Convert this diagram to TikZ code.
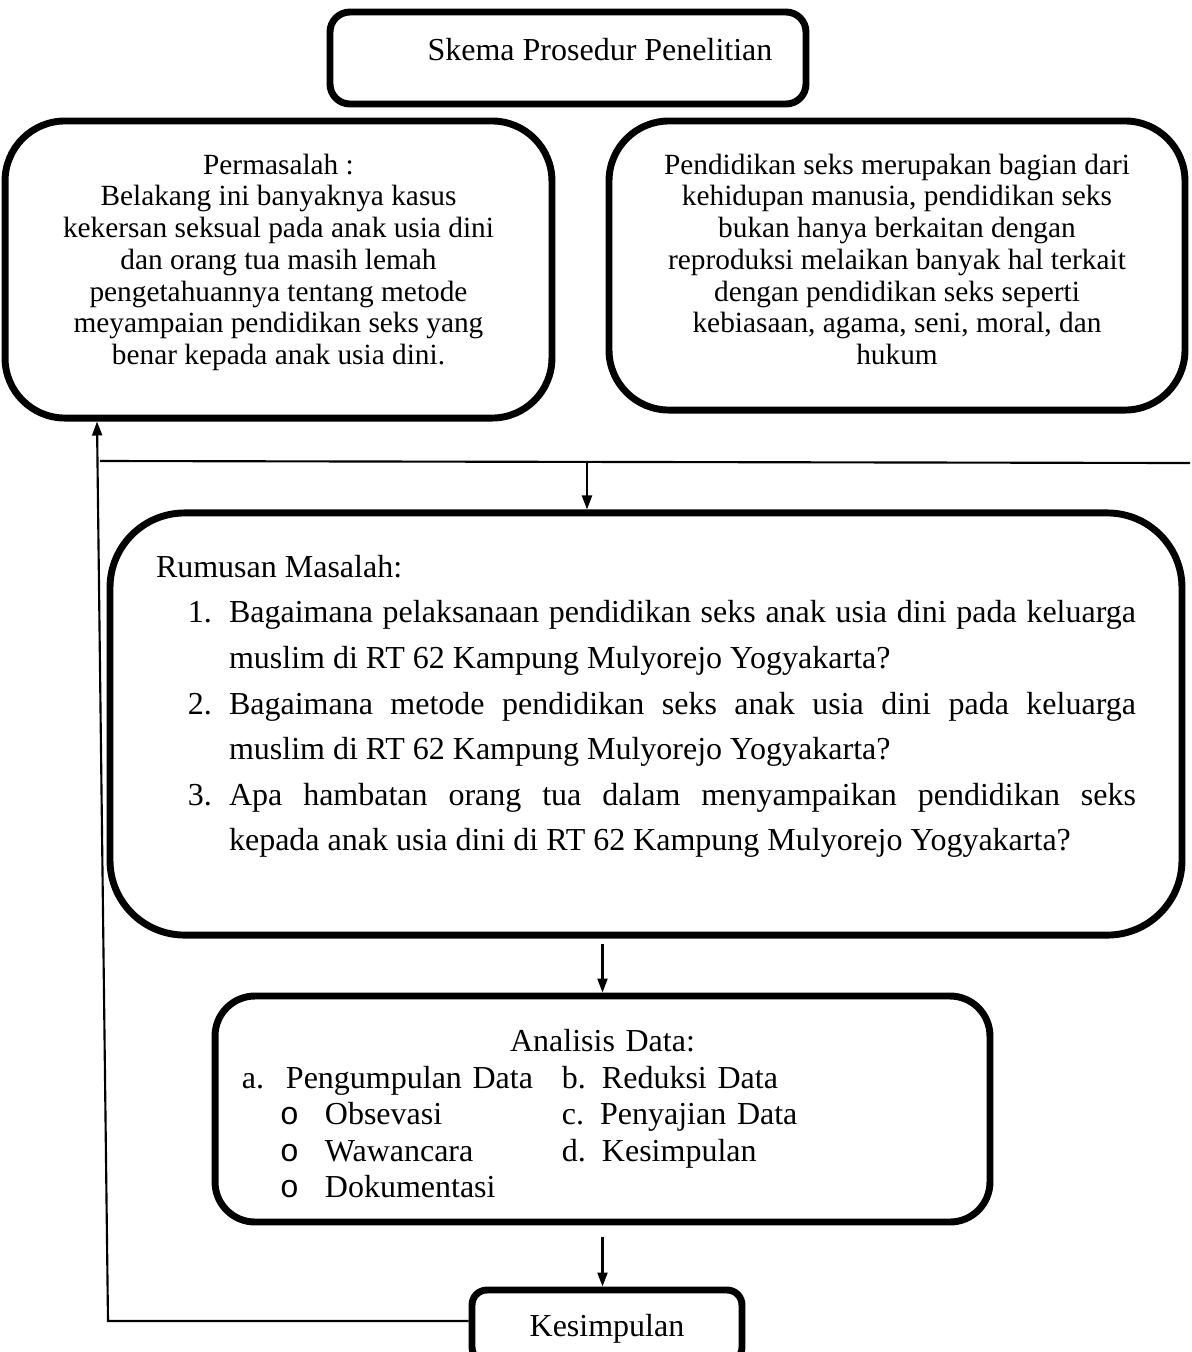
\documentclass[tikz,border=0pt]{standalone}
\usepackage{fontspec}
\setmainfont{Liberation Serif}
\newfontfamily\bulletfont{Liberation Mono}
\usetikzlibrary{arrows.meta}

\newcommand{\rumitem}[2]{\par\noindent\hangindent=27.4pt\hangafter=1
  \makebox[27.4pt][l]{\hspace{12pt}#1}#2}
\newcommand{\anitem}[2]{\hspace*{14.25pt}\makebox[16.85pt][l]{{\bulletfont o}}\makebox[88.9pt][l]{#1}#2}

\begin{document}
\begin{tikzpicture}[x=0.375pt, y=-0.375pt, font=\fontsize{12}{11.9}\selectfont]
        \tikzset{box/.style={draw, line width=2.6pt, rounded corners=#1, inner sep=0pt}}
        \tikzset{isi/.style={font=\fontsize{11}{11.9}\selectfont, align=center}}
        \tikzset{arrowC/.style={-{Triangle[length=5.25pt, width=3.75pt]}, line width=0.8pt}}

        \useasboundingbox (0,0) rectangle (1192,1352);

        \node[box=7.5pt, minimum width=178.5pt, minimum height=34.5pt, text depth=6.4pt] (judul) at (568,58) {\hspace*{24pt}Skema Prosedur Penelitian};

        \node[box=22.5pt, minimum width=205.1pt, minimum height=111.4pt, isi] (masalah) at (278.5,269.5)
            {Permasalah :\\ Belakang ini banyaknya kasus\\ kekersan seksual pada anak usia dini\\ dan orang tua masih lemah\\ pengetahuannya tentang metode\\ meyampaian pendidikan seks yang\\ benar kepada anak usia dini.\rule[-7.7pt]{0pt}{7.7pt}};
        \node[box=22.5pt, minimum width=216pt, minimum height=108.4pt, isi] (latar) at (897,265.5)
            {Pendidikan seks merupakan bagian dari\\ kehidupan manusia, pendidikan seks\\ bukan hanya berkaitan dengan\\ reproduksi melaikan banyak hal terkait\\ dengan pendidikan seks seperti\\ kebiasaan, agama, seni, moral, dan\\ hukum\rule[-4.7pt]{0pt}{4.7pt}};

        \node[box=28pt, minimum width=402pt, minimum height=158.3pt, text width=367.5pt, align=justify,
              font=\fontsize{12}{17.1}\selectfont] (rumusan) at (646,724)
            {\noindent Rumusan Masalah:
             \rumitem{1.}{Bagaimana pelaksanaan pendidikan seks anak usia dini pada keluarga\linebreak muslim di RT 62 Kampung Mulyorejo Yogyakarta?}
             \rumitem{2.}{Bagaimana metode pendidikan seks anak usia dini pada keluarga\linebreak muslim di RT 62 Kampung Mulyorejo Yogyakarta?}
             \rumitem{3.}{Apa hambatan orang tua dalam menyampaikan pendidikan seks\linebreak kepada anak usia dini di RT 62 Kampung Mulyorejo Yogyakarta?\rule[-15.75pt]{0pt}{15.75pt}}\par};

        \node[box=15pt, minimum width=290.6pt, minimum height=84.75pt, text width=270.4pt, align=left,
              font=\fontsize{12}{13.7}\selectfont] (analisis) at (602.5,1109)
            {\rule{0pt}{12pt}\makebox[\linewidth][c]{Analisis Data:}\\
             \makebox[16.5pt][l]{a.}\makebox[103.5pt][l]{Pengumpulan Data}b. Reduksi Data\\
             \anitem{Obsevasi}{c. Penyajian Data}\\
             \anitem{Wawancara}{d. Kesimpulan}\\
             \anitem{Dokumentasi}{}};

        \node[box=5.6pt, minimum width=101.25pt, minimum height=27pt, text height=10.5pt] (simpulan) at (607,1326) {Kesimpulan};

        % garis pembagi dan alur
        \coordinate (garisL) at (100,461);
        \coordinate (garisR) at (1190,463);
        \coordinate (cabang) at (587,461.6);
        \coordinate (balik) at (108,1321);
        \coordinate (balikAtas) at (97,0);

        \draw[line width=0.8pt] (garisL) -- (garisR);
        \draw[arrowC] (cabang) -- (cabang |- rumusan.north);
        \draw[arrowC, shorten <=2pt] (analisis.north |- rumusan.south) -- (analisis.north);
        \draw[arrowC, shorten <=4.5pt] (analisis.south) -- (analisis.south |- simpulan.north);
        \draw[arrowC] (simpulan.west |- balik) -- (balik) -- (balikAtas |- masalah.south);

    \end{tikzpicture}
\end{document}
